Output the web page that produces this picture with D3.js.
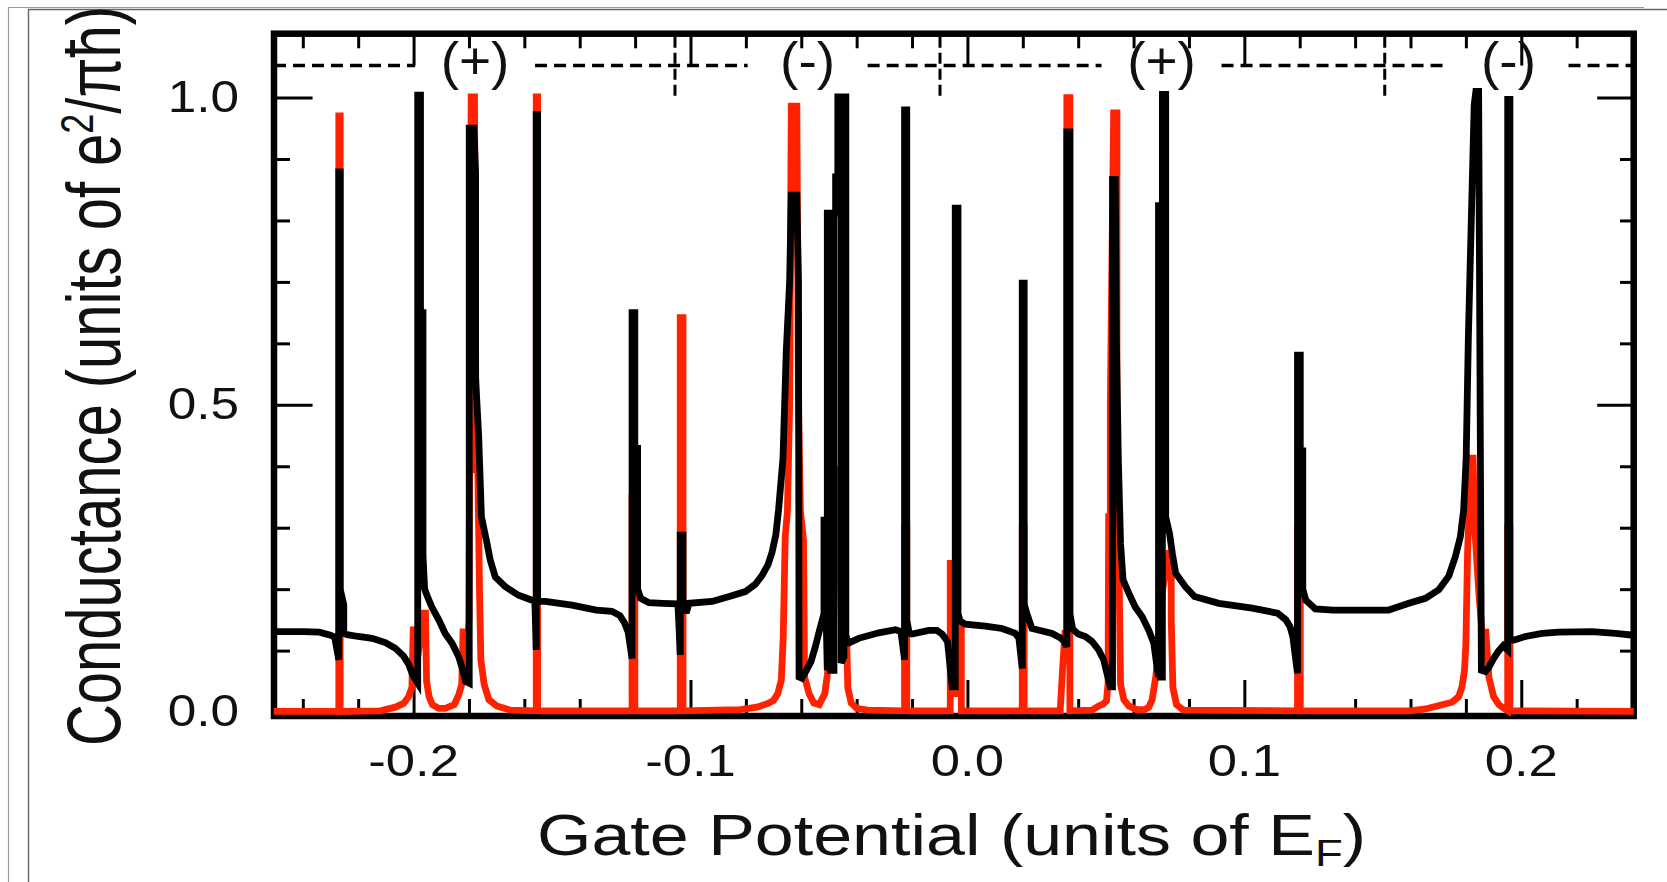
<!DOCTYPE html>
<html>
<head>
<meta charset="utf-8">
<script src="https://cdn.jsdelivr.net/npm/d3@7"></script>
<style>
  html, body { margin: 0; padding: 0; background: #fff; }
  svg { display: block; }
</style>
</head>
<body>
<svg id="chart" width="1667" height="882"></svg>
<script>
// Conductance vs. gate potential: black = one configuration (Fano resonances on a background),
// red = second configuration (isolated Lorentzian resonances).

// [gate potential (E_F), conductance (e^2/πħ)]
const blackCurve = [
  [-0.2505, 0.131], [-0.2400, 0.131], [-0.2340, 0.130], [-0.2300, 0.125], [-0.2285, 0.122],
  [-0.2270, 0.085], [-0.2270, 0.879], [-0.2265, 0.879], [-0.2265, 0.200], [-0.2252, 0.175],
  [-0.2252, 0.128], [-0.2240, 0.126],
  [-0.2200, 0.123], [-0.2150, 0.120], [-0.2102, 0.113], [-0.2066, 0.104], [-0.2036, 0.091],
  [-0.2018, 0.078], [-0.2003, 0.060],
  [-0.1985, 0.047], [-0.1985, 1.004], [-0.1975, 1.004], [-0.1975, 0.650], [-0.1966, 0.650],
  [-0.1966, 0.255], [-0.1960, 0.200], [-0.1950, 0.188],
  [-0.1934, 0.171], [-0.1909, 0.150], [-0.1886, 0.128], [-0.1861, 0.112], [-0.1837, 0.090],
  [-0.1822, 0.068], [-0.1812, 0.050],
  [-0.1799, 0.047], [-0.1799, 0.950], [-0.1782, 0.950], [-0.1776, 0.877], [-0.1776, 0.543],
  [-0.1765, 0.450], [-0.1755, 0.318],
  [-0.1735, 0.275], [-0.1723, 0.247], [-0.1705, 0.220], [-0.1669, 0.204], [-0.1621, 0.190],
  [-0.1572, 0.182],
  [-0.1562, 0.180], [-0.1557, 0.101], [-0.1557, 0.972], [-0.1552, 0.972], [-0.1552, 0.180],
  [-0.1540, 0.180],
  [-0.1524, 0.180], [-0.1428, 0.174], [-0.1340, 0.166], [-0.1284, 0.164], [-0.1255, 0.157],
  [-0.1238, 0.145], [-0.1225, 0.130],
  [-0.1211, 0.087], [-0.1211, 0.650], [-0.1201, 0.650], [-0.1201, 0.429], [-0.1191, 0.429],
  [-0.1191, 0.200], [-0.1180, 0.185],
  [-0.1150, 0.178], [-0.1100, 0.177], [-0.1050, 0.176],
  [-0.1045, 0.172], [-0.1037, 0.093], [-0.1037, 0.288], [-0.1027, 0.288], [-0.1027, 0.165],
  [-0.1013, 0.165], [-0.1005, 0.177],
  [-0.0922, 0.180], [-0.0860, 0.188], [-0.0802, 0.196], [-0.0766, 0.208], [-0.0742, 0.222],
  [-0.0720, 0.240], [-0.0706, 0.259], [-0.0692, 0.288], [-0.0682, 0.329], [-0.0666, 0.413],
  [-0.0654, 0.589], [-0.0642, 0.700],
  [-0.0636, 0.841], [-0.0616, 0.841], [-0.0610, 0.700], [-0.0608, 0.057], [-0.0598, 0.055],
  [-0.0585, 0.065], [-0.0565, 0.082], [-0.0550, 0.105], [-0.0533, 0.135], [-0.0518, 0.160],
  [-0.0518, 0.318],
  [-0.0506, 0.068], [-0.0506, 0.812], [-0.0494, 0.812], [-0.0494, 0.068], [-0.0482, 0.068],
  [-0.0482, 0.812], [-0.0476, 0.812], [-0.0476, 0.871], [-0.0468, 0.871], [-0.0468, 1.001],
  [-0.0456, 1.001], [-0.0456, 0.080], [-0.0446, 0.090], [-0.0446, 1.001], [-0.0439, 1.001],
  [-0.0439, 0.120],
  [-0.0425, 0.113], [-0.0393, 0.120], [-0.0320, 0.129], [-0.0260, 0.134], [-0.0240, 0.131],
  [-0.0227, 0.085], [-0.0227, 0.980], [-0.0219, 0.980], [-0.0219, 0.150], [-0.0210, 0.128],
  [-0.0200, 0.127], [-0.0140, 0.133], [-0.0110, 0.133], [-0.0092, 0.127], [-0.0072, 0.115],
  [-0.0055, 0.041], [-0.0044, 0.041], [-0.0044, 0.820], [-0.0034, 0.820], [-0.0034, 0.160],
  [-0.0026, 0.148],
  [-0.0008, 0.143], [0.0065, 0.140], [0.0125, 0.136], [0.0173, 0.128], [0.0186, 0.120],
  [0.0198, 0.071], [0.0198, 0.698], [0.0205, 0.698], [0.0205, 0.175], [0.0215, 0.160],
  [0.0233, 0.136],
  [0.0306, 0.128], [0.0335, 0.121], [0.0350, 0.115],
  [0.0359, 0.106], [0.0359, 0.944], [0.0370, 0.944], [0.0370, 0.160], [0.0380, 0.135],
  [0.0400, 0.127],
  [0.0426, 0.123], [0.0450, 0.115], [0.0474, 0.101], [0.0492, 0.085], [0.0504, 0.063],
  [0.0516, 0.041], [0.0524, 0.041], [0.0524, 0.867], [0.0534, 0.867], [0.0538, 0.600],
  [0.0545, 0.410], [0.0553, 0.274], [0.0562, 0.215],
  [0.0583, 0.193], [0.0606, 0.171], [0.0631, 0.155], [0.0655, 0.133], [0.0673, 0.112],
  [0.0683, 0.079],
  [0.0690, 0.057], [0.0690, 0.824], [0.0697, 0.824], [0.0697, 0.057], [0.0704, 0.057],
  [0.0704, 1.005], [0.0716, 1.005], [0.0716, 0.318], [0.0730, 0.290], [0.0740, 0.258],
  [0.0752, 0.226],
  [0.0787, 0.204], [0.0820, 0.188], [0.0908, 0.177], [0.1028, 0.169], [0.1120, 0.161],
  [0.1150, 0.150], [0.1165, 0.139], [0.1175, 0.123],
  [0.1192, 0.063], [0.1192, 0.581], [0.1202, 0.581], [0.1202, 0.425], [0.1211, 0.425],
  [0.1211, 0.200], [0.1222, 0.182],
  [0.1256, 0.168], [0.1320, 0.166], [0.1521, 0.166], [0.1594, 0.177], [0.1654, 0.185],
  [0.1702, 0.199], [0.1738, 0.221], [0.1762, 0.253], [0.1780, 0.285], [0.1792, 0.329],
  [0.1801, 0.413], [0.1809, 0.611],
  [0.1830, 0.988], [0.1836, 1.010], [0.1846, 1.010], [0.1852, 0.456], [0.1856, 0.068],
  [0.1870, 0.066], [0.1883, 0.073], [0.1900, 0.087], [0.1919, 0.100], [0.1935, 0.108],
  [0.1951, 0.101], [0.1951, 0.997], [0.1959, 0.997], [0.1959, 0.120], [0.1973, 0.117],
  [0.2015, 0.123], [0.2075, 0.128], [0.2135, 0.130], [0.2256, 0.131], [0.2340, 0.128],
  [0.2406, 0.125]
];

const redCurve = [
  [-0.2505, 0.001], [-0.2270, 0.001], [-0.2270, 0.970], [-0.2265, 0.970], [-0.2265, 0.001],
  [-0.2120, 0.002], [-0.2066, 0.008], [-0.2036, 0.014], [-0.2018, 0.025], [-0.2006, 0.040],
  [-0.2001, 0.139], [-0.1995, 0.060], [-0.1975, 0.120], [-0.1962, 0.161], [-0.1957, 0.161],
  [-0.1953, 0.050], [-0.1944, 0.025], [-0.1932, 0.012], [-0.1909, 0.006],
  [-0.1886, 0.006], [-0.1853, 0.012], [-0.1837, 0.028], [-0.1826, 0.045], [-0.1821, 0.136],
  [-0.1815, 0.050], [-0.1800, 0.150], [-0.1792, 1.001], [-0.1780, 1.001], [-0.1774, 0.394],
  [-0.1768, 0.394], [-0.1762, 0.200], [-0.1757, 0.085], [-0.1745, 0.045], [-0.1728, 0.020],
  [-0.1700, 0.010], [-0.1650, 0.003],
  [-0.1557, 0.002], [-0.1557, 1.001], [-0.1552, 1.001], [-0.1552, 0.002],
  [-0.1211, 0.002], [-0.1211, 0.350], [-0.1201, 0.350], [-0.1201, 0.002],
  [-0.1037, 0.002], [-0.1037, 0.642], [-0.1027, 0.642], [-0.1027, 0.002],
  [-0.0820, 0.004], [-0.0760, 0.008], [-0.0720, 0.014], [-0.0700, 0.019], [-0.0685, 0.030],
  [-0.0672, 0.052], [-0.0665, 0.123], [-0.0658, 0.285], [-0.0650, 0.326], [-0.0642, 0.500],
  [-0.0636, 0.986], [-0.0616, 0.986], [-0.0610, 0.500], [-0.0603, 0.326], [-0.0592, 0.280],
  [-0.0588, 0.057], [-0.0572, 0.030], [-0.0555, 0.015], [-0.0535, 0.012],
  [-0.0515, 0.030], [-0.0506, 0.060], [-0.0495, 0.110], [-0.0485, 0.110], [-0.0470, 0.400],
  [-0.0450, 0.300], [-0.0442, 0.119], [-0.0436, 0.119],
  [-0.0432, 0.040], [-0.0420, 0.015], [-0.0400, 0.006], [-0.0360, 0.003],
  [-0.0227, 0.002], [-0.0227, 0.300], [-0.0219, 0.300], [-0.0219, 0.002],
  [-0.0062, 0.002], [-0.0062, 0.242], [-0.0056, 0.242], [-0.0056, 0.030], [-0.0028, 0.030],
  [-0.0028, 0.140], [-0.0022, 0.140], [-0.0022, 0.002],
  [0.0198, 0.002], [0.0198, 0.300], [0.0205, 0.300], [0.0205, 0.002],
  [0.0335, 0.002], [0.0343, 0.065], [0.0352, 0.128], [0.0359, 0.128], [0.0359, 1.000],
  [0.0370, 1.000], [0.0370, 0.002],
  [0.0450, 0.003], [0.0474, 0.010], [0.0490, 0.013], [0.0502, 0.018], [0.0508, 0.047],
  [0.0510, 0.318], [0.0516, 0.318], [0.0516, 0.500], [0.0528, 0.975], [0.0540, 0.975],
  [0.0540, 0.209], [0.0548, 0.209], [0.0553, 0.045], [0.0565, 0.020], [0.0583, 0.010],
  [0.0610, 0.004],
  [0.0640, 0.004], [0.0655, 0.008], [0.0667, 0.020], [0.0680, 0.057], [0.0690, 0.100],
  [0.0705, 0.200], [0.0728, 0.258], [0.0736, 0.258], [0.0736, 0.150], [0.0742, 0.040],
  [0.0755, 0.012], [0.0780, 0.003],
  [0.1192, 0.002], [0.1192, 0.300], [0.1202, 0.300], [0.1202, 0.002],
  [0.1600, 0.002], [0.1654, 0.005], [0.1714, 0.012], [0.1750, 0.016], [0.1774, 0.025],
  [0.1786, 0.041], [0.1795, 0.068], [0.1800, 0.111], [0.1806, 0.258], [0.1812, 0.329],
  [0.1818, 0.413], [0.1826, 0.413], [0.1832, 0.300], [0.1846, 0.200], [0.1858, 0.130],
  [0.1872, 0.130], [0.1883, 0.057], [0.1900, 0.025], [0.1919, 0.012], [0.1940, 0.005],
  [0.1951, 0.002], [0.1951, 0.300], [0.1959, 0.300], [0.1959, 0.002],
  [0.2406, 0.001]
];

// Resonance parity labels sitting on the dashed reference level
const markerLabels = ["(+)", "(-)", "(+)", "(-)"];
const markerPositions = [-0.1778, -0.0577, 0.0701, 0.1954];
const markerLevel = 1.052;
// Short vertical dashed guides hanging from the top edge
const guidePositions = [-0.1056, -0.0099, 0.1507];
const guideBottom = 1.0;

const xMajorTicks = [-0.2, -0.1, 0.0, 0.1, 0.2];
const xTickLabels = ["-0.2", "-0.1", "0.0", "0.1", "0.2"];
const xMinorTicks = [-0.24, -0.22, -0.18, -0.16, -0.14, -0.12, -0.08, -0.06, -0.04, -0.02,
                     0.02, 0.04, 0.06, 0.08, 0.12, 0.14, 0.16, 0.18, 0.22, 0.24];
const yMajorTicks = [0.0, 0.5, 1.0];
const yTickLabels = ["0.0", "0.5", "1.0"];
const yMinorTicks = [0.1, 0.2, 0.3, 0.4, 0.6, 0.7, 0.8, 0.9];

const xDomain = [-0.2504, 0.2406];
const yDomain = [-0.0064, 1.1039];

const FONT = "'Liberation Sans', Arial, Helvetica, sans-serif";
const RED = "#ff2200";
const LINE_W = 6.8;

const svg = d3.select("#chart");

const x = d3.scaleLinear().domain(xDomain).range([274, 1633.7]);
const y = d3.scaleLinear().domain(yDomain).range([716, 33.7]);
const [plotLeft, plotRight] = x.range();
const [plotBottom, plotTop] = y.range();

// page border lines
const border = svg.append("g").attr("fill", "none");
border.append("line").attr("x1", 8.5).attr("x2", 8.5).attr("y1", 7).attr("y2", 882)
  .attr("stroke", "#9a9a9a").attr("stroke-width", 1.2);
border.append("line").attr("x1", 8).attr("x2", 1644).attr("y1", 7.5).attr("y2", 7.5)
  .attr("stroke", "#9a9a9a").attr("stroke-width", 1.2);
border.append("line").attr("x1", 28.5).attr("x2", 28.5).attr("y1", 9.5).attr("y2", 882)
  .attr("stroke", "#666").attr("stroke-width", 1.4);
border.append("line").attr("x1", 28).attr("x2", 1667).attr("y1", 9.5).attr("y2", 9.5)
  .attr("stroke", "#666").attr("stroke-width", 1.4);

// plot frame
svg.append("rect")
  .attr("x", plotLeft).attr("y", plotTop)
  .attr("width", plotRight - plotLeft).attr("height", plotBottom - plotTop)
  .attr("fill", "none").attr("stroke", "#000").attr("stroke-width", 6.5);

// inward ticks on all four sides
function ticks(axis, transform, values, size) {
  const g = svg.append("g").attr("transform", transform)
    .call(axis.tickValues(values).tickSize(size).tickFormat(""));
  g.select(".domain").remove();
  g.selectAll(".tick line").attr("stroke", "#000").attr("stroke-width", 3);
  return g;
}
ticks(d3.axisBottom(x), `translate(0,${plotBottom})`, xMinorTicks, -17);
ticks(d3.axisBottom(x), `translate(0,${plotBottom})`, xMajorTicks, -36);
ticks(d3.axisTop(x), `translate(0,${plotTop})`, xMinorTicks, -14.6);
ticks(d3.axisTop(x), `translate(0,${plotTop})`, xMajorTicks, -(y(markerLevel) - plotTop));
ticks(d3.axisLeft(y), `translate(${plotLeft},0)`, yMinorTicks, -16);
ticks(d3.axisLeft(y), `translate(${plotLeft},0)`, yMajorTicks, -38.6);
ticks(d3.axisRight(y), `translate(${plotRight},0)`, yMinorTicks, -13.7);
ticks(d3.axisRight(y), `translate(${plotRight},0)`, yMajorTicks, -36.5);

// curves: red underneath, black on top
const line = d3.line().x(d => x(d[0])).y(d => y(d[1]));
svg.append("path").datum(redCurve).attr("d", line)
  .attr("fill", "none").attr("stroke", RED).attr("stroke-width", LINE_W)
  .attr("stroke-linejoin", "miter");
svg.append("path").datum(blackCurve).attr("d", line)
  .attr("fill", "none").attr("stroke", "#000").attr("stroke-width", LINE_W)
  .attr("stroke-linejoin", "miter");

// dashed reference level, broken around the parity labels
const gapHalf = 60;
const edges = [plotLeft];
markerPositions.forEach(p => { edges.push(x(p) - gapHalf, x(p) + gapHalf); });
edges.push(plotRight);
const segs = [];
for (let i = 0; i < edges.length; i += 2) segs.push([edges[i], edges[i + 1]]);
svg.append("g").selectAll("line").data(segs).join("line")
  .attr("x1", d => d[0]).attr("x2", d => d[1])
  .attr("y1", y(markerLevel)).attr("y2", y(markerLevel))
  .attr("stroke", "#000").attr("stroke-width", 3.5).attr("stroke-dasharray", "12,7");

svg.append("g").selectAll("line").data(guidePositions).join("line")
  .attr("x1", d => x(d)).attr("x2", d => x(d))
  .attr("y1", plotTop + 3).attr("y2", y(guideBottom))
  .attr("stroke", "#000").attr("stroke-width", 3).attr("stroke-dasharray", "11,5");

function stretch(sel, sx, ax, ay) {
  sel.attr("transform", `translate(${ax},${ay}) scale(${sx},1) translate(${-ax},${-ay})`);
}

svg.append("g").selectAll("text").data(markerPositions).join("text")
  .attr("x", d => x(d)).attr("y", y(markerLevel) + 13.5)
  .attr("text-anchor", "middle")
  .attr("font-family", FONT).attr("font-size", 51).attr("fill", "#111")
  .text((d, i) => markerLabels[i])
  .each(function (d) { stretch(d3.select(this), 1.08, x(d), 0); });

// tick labels
const xLabelY = 776;
svg.append("g").selectAll("text").data(xMajorTicks).join("text")
  .attr("x", d => x(d)).attr("y", xLabelY)
  .attr("text-anchor", "middle")
  .attr("font-family", FONT).attr("font-size", 45).attr("fill", "#111")
  .text((d, i) => xTickLabels[i])
  .each(function (d) { stretch(d3.select(this), 1.17, x(d), 0); });

const yLabelX = 239;
svg.append("g").selectAll("text").data(yMajorTicks).join("text")
  .attr("x", yLabelX).attr("y", d => y(d) + 14)
  .attr("text-anchor", "end")
  .attr("font-family", FONT).attr("font-size", 45).attr("fill", "#111")
  .text((d, i) => yTickLabels[i])
  .each(function () { stretch(d3.select(this), 1.14, yLabelX, 0); });

// axis titles
const xt = svg.append("text")
  .attr("x", 951.5).attr("y", 855)
  .attr("text-anchor", "middle")
  .attr("font-family", FONT).attr("font-size", 57).attr("fill", "#111")
  .attr("textLength", 829).attr("lengthAdjust", "spacingAndGlyphs");
xt.append("tspan").text("Gate Potential (units of E");
xt.append("tspan").attr("font-size", "0.65em").attr("dy", 11).text("F");
xt.append("tspan").attr("dy", -11).text(")");

const yt = svg.append("g")
  .attr("transform", "translate(120,746) scale(1.37,1) rotate(-90)")
  .append("text")
  .attr("x", 0).attr("y", 0)
  .attr("text-anchor", "start")
  .attr("font-family", FONT).attr("font-size", 55).attr("fill", "#111")
  .attr("textLength", 740).attr("lengthAdjust", "spacingAndGlyphs");
yt.append("tspan").text("Conductance (units of e");
yt.append("tspan").attr("font-size", "0.62em").attr("dy", -20).text("2");
yt.append("tspan").attr("dy", 20).text("/πħ)");
</script>
</body>
</html>
